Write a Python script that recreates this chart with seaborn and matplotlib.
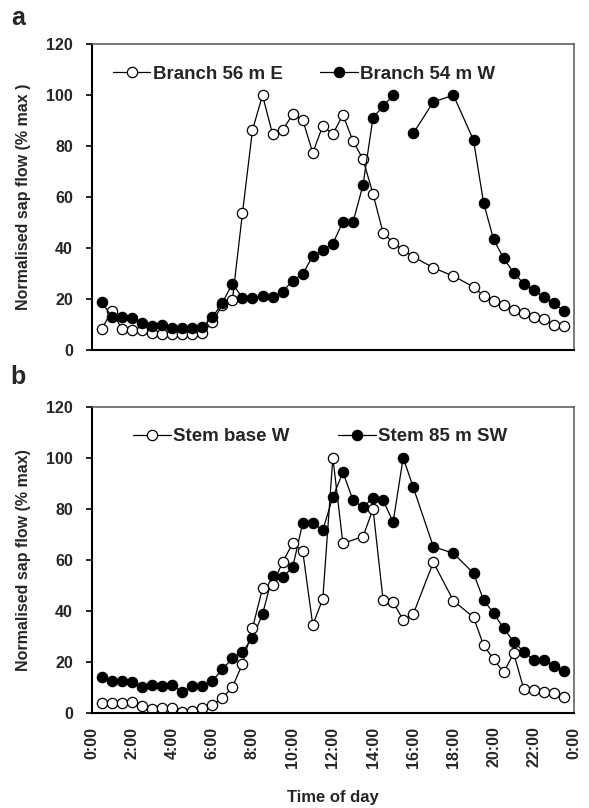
import numpy as np
import pandas as pd
import matplotlib
matplotlib.use("Agg")
import matplotlib.pyplot as plt
from matplotlib.lines import Line2D
import seaborn as sns

# readings every half hour; a few hours are missing from the record
hours_branch_e = [0.5, 1, 1.5, 2, 2.5, 3, 3.5, 4, 4.5, 5, 5.5, 6, 6.5, 7, 7.5, 8,
                  8.5, 9, 9.5, 10, 10.5, 11, 11.5, 12, 12.5, 13, 13.5, 14, 14.5, 15, 15.5, 16,
                  17, 18, 19, 19.5, 20, 20.5, 21, 21.5, 22, 22.5, 23, 23.5]
flow_branch_e = [8.2, 15.4, 8.2, 8.0, 8.0, 6.8, 6.1, 6.1, 6.1, 6.1, 6.5, 11.0, 17.6, 19.6, 53.6, 86.3,
                 100, 84.7, 86.3, 92.5, 90.4, 77.4, 88.0, 84.7, 92.3, 82.1, 74.9, 61.2, 46.0, 42.1, 39.2, 36.6,
                 32.3, 29.0, 24.8, 21.3, 19.3, 17.6, 15.9, 14.4, 13.1, 12.0, 9.8, 9.5]

hours_branch_w = [0.5, 1, 1.5, 2, 2.5, 3, 3.5, 4, 4.5, 5, 5.5, 6, 6.5, 7, 7.5, 8,
                  8.5, 9, 9.5, 10, 10.5, 11, 11.5, 12, 12.5, 13, 13.5, 14, 14.5, 15, 15.5,
                  16, 17, 18, 19, 19.5, 20, 20.5, 21, 21.5, 22, 22.5, 23, 23.5]
flow_branch_w = [18.7, 13.1, 12.9, 12.4, 10.7, 9.5, 9.8, 8.8, 8.6, 8.8, 9.2, 12.8, 18.5, 26.1, 20.5, 20.5,
                 21.2, 21.0, 22.9, 27.2, 29.8, 36.9, 39.2, 41.8, 50.3, 50.1, 64.7, 91.2, 95.7, 100, np.nan,
                 85.0, 97.4, 100, 82.4, 57.8, 43.4, 36.0, 30.3, 26.1, 23.5, 20.9, 18.3, 15.4]

hours_stem_base = [0.5, 1, 1.5, 2, 2.5, 3, 3.5, 4, 4.5, 5, 5.5, 6, 6.5, 7, 7.5, 8,
                   8.5, 9, 9.5, 10, 10.5, 11, 11.5, 12, 12.5, 13.5, 14, 14.5, 15, 15.5, 16,
                   17, 18, 19, 19.5, 20, 20.5, 21, 21.5, 22, 22.5, 23, 23.5]
flow_stem_base = [3.7, 3.6, 3.6, 4.1, 2.6, 1.3, 2.0, 1.8, 0.2, 0.8, 1.8, 3.0, 5.6, 10.0, 19.1, 33.1,
                  48.8, 50.1, 59.0, 66.4, 63.4, 34.4, 44.6, 100, 66.4, 69.0, 79.9, 44.2, 43.3, 36.4, 38.6,
                  59.0, 43.9, 37.4, 26.5, 20.9, 15.8, 23.3, 9.3, 9.0, 8.2, 7.6, 6.0]

hours_stem_85 = [0.5, 1, 1.5, 2, 2.5, 3, 3.5, 4, 4.5, 5, 5.5, 6, 6.5, 7, 7.5, 8,
                 8.5, 9, 9.5, 10, 10.5, 11, 11.5, 12, 12.5, 13, 13.5, 14, 14.5, 15, 15.5, 16,
                 17, 18, 19, 19.5, 20, 20.5, 21, 21.5, 22, 22.5, 23, 23.5]
flow_stem_85 = [13.9, 12.4, 12.4, 11.9, 10.0, 10.9, 10.6, 10.9, 8.2, 10.5, 10.5, 12.4, 17.0, 21.3, 23.9, 29.2,
                38.6, 53.6, 53.1, 57.0, 74.3, 74.3, 71.6, 84.5, 94.3, 83.4, 80.5, 84.3, 83.4, 74.7, 100, 88.4,
                65.1, 62.5, 54.7, 44.2, 39.0, 33.1, 27.8, 23.9, 20.7, 20.5, 18.3, 16.4]

tick_hours = [0, 2, 4, 6, 8, 10, 12, 14, 16, 18, 20, 22, 24]
tick_labels = ["0:00", "2:00", "4:00", "6:00", "8:00", "10:00", "12:00",
               "14:00", "16:00", "18:00", "20:00", "22:00", "0:00"]


def make_frame(hours, flow):
    df = pd.DataFrame({"hour": hours, "flow": flow})
    # a gap (NaN) in the record breaks the line into separate segments
    df["segment"] = df["flow"].isna().cumsum()
    return df.dropna()


def draw_series(ax, hours, flow, fill):
    df = make_frame(hours, flow)
    sns.lineplot(data=df, x="hour", y="flow", units="segment", estimator=None,
                 sort=False, ax=ax, color="black", linewidth=0.9, marker="o",
                 markersize=7.4, markerfacecolor=fill, markeredgecolor="black",
                 markeredgewidth=0.9, legend=False)


def style_axes(ax, ylabel, show_x):
    ax.set_xlim(0, 24)
    ax.set_ylim(0, 120)
    ax.set_yticks([0, 20, 40, 60, 80, 100, 120])
    ax.set_xticks(tick_hours)
    for side in ["left", "bottom"]:
        ax.spines[side].set_color("black")
        ax.spines[side].set_linewidth(1.5)
    for side in ["top", "right"]:
        ax.spines[side].set_color("#555555")
        ax.spines[side].set_linewidth(1.1)
    ax.tick_params(axis="y", direction="out", length=4.5, width=1.2, pad=9,
                   labelsize=11.5, color="black")
    ax.set_ylabel(ylabel, fontsize=11.5, fontweight="bold")
    ax.yaxis.set_label_coords(-0.125, 0.5)
    for lab in ax.get_yticklabels():
        lab.set_fontweight("bold")
    if show_x:
        ax.set_xticklabels(tick_labels, rotation=90, fontsize=11.5, fontweight="bold")
        ax.tick_params(axis="x", length=0, pad=10)
        ax.set_xlabel("Time of day", fontsize=12, fontweight="bold", labelpad=16)
    else:
        ax.set_xticklabels([])
        ax.tick_params(axis="x", length=0)
        ax.set_xlabel("")


def add_legend(ax, names, x0, colspace):
    handles = [
        Line2D([], [], color="black", linewidth=0.9, marker="o", markersize=7.4,
               markerfacecolor="white", markeredgecolor="black", markeredgewidth=0.9),
        Line2D([], [], color="black", linewidth=0.9, marker="o", markersize=7.4,
               markerfacecolor="black", markeredgecolor="black", markeredgewidth=0.9),
    ]
    ax.legend(handles, names, loc="upper left", bbox_to_anchor=(x0, 0.93), ncol=2,
              frameon=False, handlelength=2.0, handletextpad=0.13, columnspacing=colspace,
              borderpad=0, borderaxespad=0, prop={"weight": "bold", "size": 13.5})


sns.set_style("ticks")
plt.rcParams["font.family"] = ["Liberation Sans", "DejaVu Sans"]

fig = plt.figure(figsize=(5.89, 8.08), dpi=100)
ax_a = fig.add_axes([0.1557, 0.5668, 0.8188, 0.3784])
ax_b = fig.add_axes([0.1557, 0.1180, 0.8188, 0.3787])

# panel a: filled circles sit over the open ones
draw_series(ax_a, hours_branch_e, flow_branch_e, "white")
draw_series(ax_a, hours_branch_w, flow_branch_w, "black")
style_axes(ax_a, "Normalised sap flow (% max )", show_x=False)
add_legend(ax_a, ["Branch 56 m E", "Branch 54 m W"], 0.044, 2.0)

# panel b: open circles sit over the filled ones
draw_series(ax_b, hours_stem_85, flow_stem_85, "black")
draw_series(ax_b, hours_stem_base, flow_stem_base, "white")
style_axes(ax_b, "Normalised sap flow (% max)", show_x=True)
add_legend(ax_b, ["Stem base W", "Stem 85 m SW"], 0.086, 2.6)

fig.text(0.031, 0.978, "a", fontsize=18, fontweight="bold", ha="center", va="center")
fig.text(0.031, 0.533, "b", fontsize=18, fontweight="bold", ha="center", va="center")

fig.savefig("out.png", dpi=100)
